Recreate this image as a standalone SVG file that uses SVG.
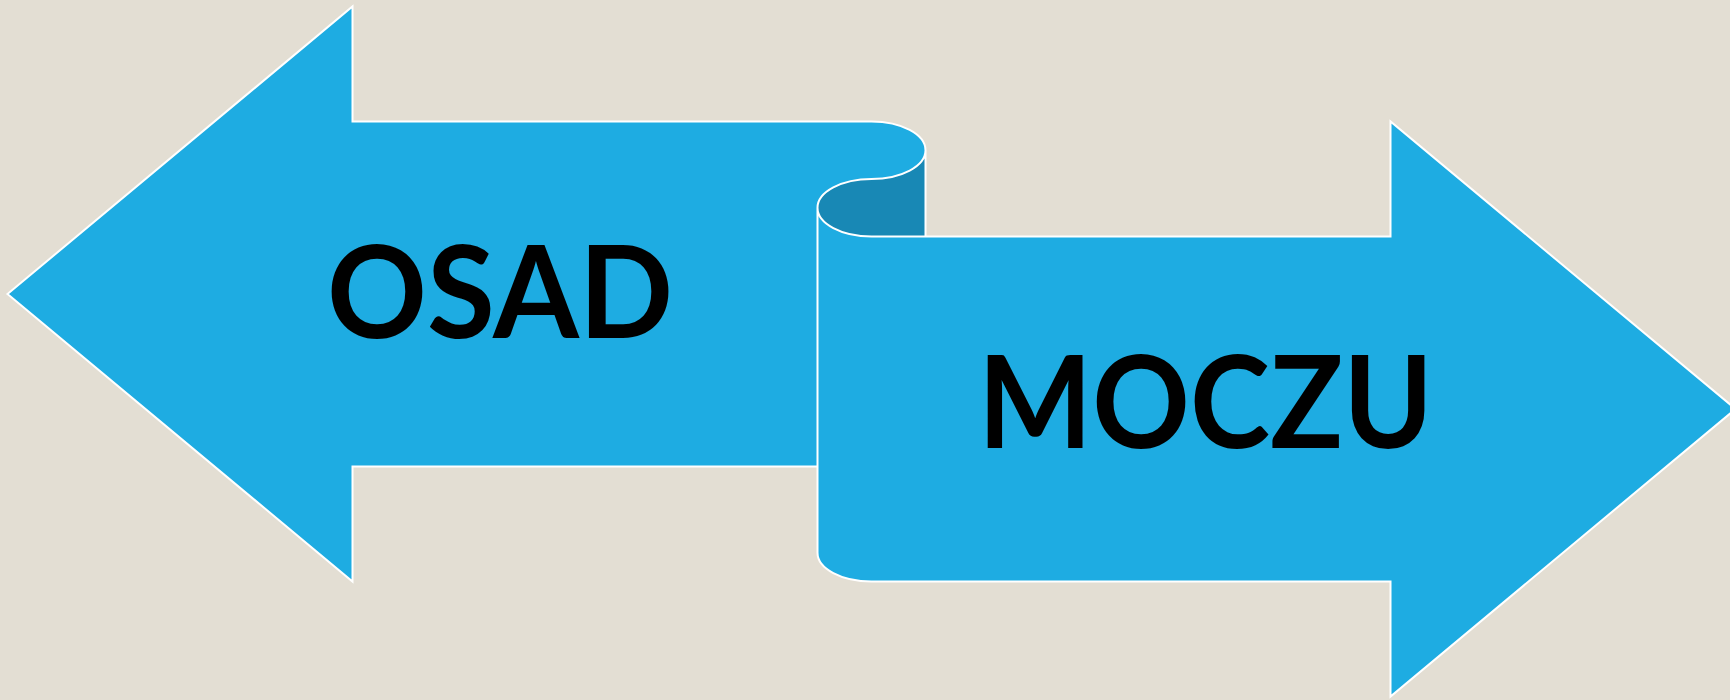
<svg xmlns="http://www.w3.org/2000/svg" width="1730" height="700" viewBox="0 0 1730 700">
  <style>
    .bg { fill: #E3DED3; }
    .body { fill: #1EACE2; stroke: none; }
    .shade { fill: #1888B5; stroke: none; }
    .outline { fill: none; stroke: #FFFFFF; stroke-width: 2; stroke-linejoin: miter; }
    .label { font-family: Lato, "Liberation Sans", Arial, sans-serif; font-weight: 700; font-size: 128px; fill: #000000; text-anchor: middle; }
  </style>
  <rect class="bg" x="0" y="0" width="1730" height="700"/>
  <g id="ribbon">
    <path class="body" d="M 7.5 294 L 352.5 6.5 L 352.5 121.5 L 871.5 121.5 A 54 28.75 0 0 1 871.5 179 A 54 28.75 0 0 0 871.5 236.5 L 1390.5 236.5 L 1390.5 121.5 L 1735.5 409 L 1390.5 696.5 L 1390.5 581.5 L 871.5 581.5 A 54 28.75 0 0 1 817.5 552.75 L 817.5 466.5 L 352.5 466.5 L 352.5 581.5 Z"/>
    <path class="shade" d="M 925.5 150.25 A 54 28.75 0 0 1 871.5 179 A 54 28.75 0 0 0 871.5 236.5 L 925.5 236.5 Z"/>
    <path class="outline" d="M 7.5 294 L 352.5 6.5 L 352.5 121.5 L 871.5 121.5 A 54 28.75 0 0 1 871.5 179 A 54 28.75 0 0 0 871.5 236.5 L 1390.5 236.5 L 1390.5 121.5 L 1735.5 409 L 1390.5 696.5 L 1390.5 581.5 L 871.5 581.5 A 54 28.75 0 0 1 817.5 552.75 L 817.5 466.5 L 352.5 466.5 L 352.5 581.5 Z M 925.5 150.25 L 925.5 236.5 M 817.5 207.75 L 817.5 466.5"/>
  </g>
  <g id="osad">
    <text class="label" x="500" y="338" textLength="346" lengthAdjust="spacingAndGlyphs">OSAD</text>
  </g>
  <g id="moczu">
    <text class="label" x="1205.5" y="448" textLength="455" lengthAdjust="spacingAndGlyphs">MOCZU</text>
  </g>
  <g id="connectors"/>
</svg>
